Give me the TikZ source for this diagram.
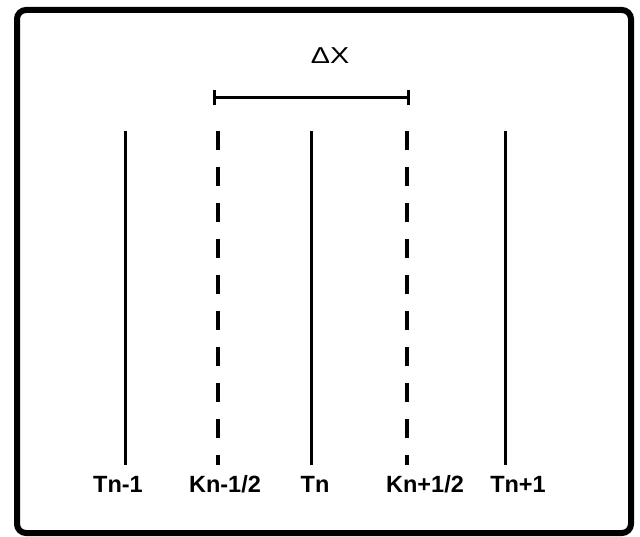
\documentclass[tikz,border=0pt]{standalone}
\usepackage{fontspec}
\setmainfont{Liberation Sans}
\begin{document}
\begin{tikzpicture}[x=1pt,y=-1pt,
  frame/.style={line width=6pt,rounded corners=9pt},
  grid/.style={line width=3pt},
  half/.style={line width=3.4pt,dash pattern=on 19pt off 17pt},
  bar/.style={line width=3pt},
  lab/.style={font=\fontsize{23.5}{24}\selectfont\bfseries,anchor=base,inner sep=0pt},
  dx/.style={font=\fontsize{23}{23}\selectfont,anchor=base,inner sep=0pt,xscale=1.25}]
\useasboundingbox (0,0) rectangle (640,537);
\draw[frame] (17,10) rectangle (631,533);
% tops and bottoms of the lines
\foreach \n/\x in {a/125,b/218,c/311,d/407,e/505}{
  \coordinate (\n top) at (\x,131);
  \coordinate (\n bot) at (\x,465);
}
\draw[grid] (atop) -- (abot);
\draw[half] (btop) -- (bbot);
\draw[grid] (ctop) -- (cbot);
\draw[half] (dtop) -- (dbot);
\draw[grid] (etop) -- (ebot);
% labels
\node[lab] (la) at (118,492) {Tn-1};
\node[lab] (lb) at (225,492) {Kn-1/2};
\node[lab] (lc) at (315,492) {Tn};
\node[lab] (ld) at (425,492) {Kn+1/2};
\node[lab] (le) at (518,492) {Tn+1};
% delta x bar
\coordinate (bl) at (214,98);
\coordinate (br) at (408,98);
\draw[bar] (bl) -- (br);
\draw[bar] ([yshift=-7.5pt]bl) -- ([yshift=7.5pt]bl);
\draw[bar] ([yshift=-7.5pt]br) -- ([yshift=7.5pt]br);
\node[dx] (delta) at (330,64) {ΔX};
\end{tikzpicture}
\end{document}
